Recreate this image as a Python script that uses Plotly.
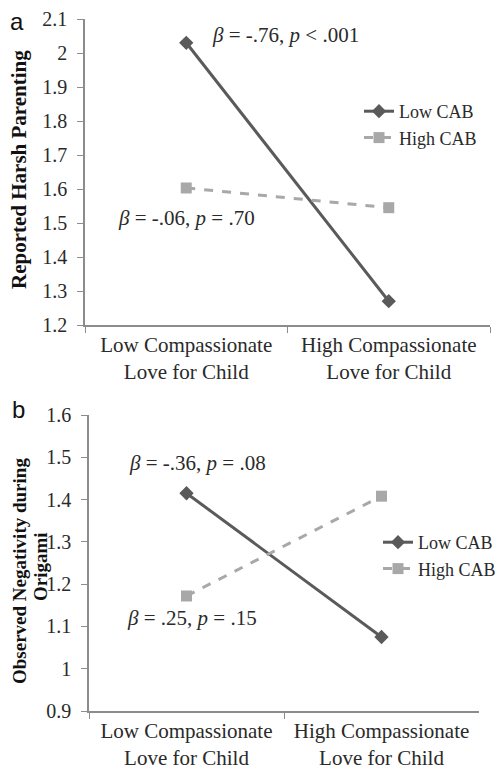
import plotly.graph_objects as go

categories = ["Low Compassionate<br>Love for Child", "High Compassionate<br>Love for Child"]
series_names = ["Low CAB", "High CAB"]
a_low_cab = [2.03, 1.27]
a_high_cab = [1.603, 1.545]
b_low_cab = [1.415, 1.075]
b_high_cab = [1.172, 1.408]
a_ticks = [1.2, 1.3, 1.4, 1.5, 1.6, 1.7, 1.8, 1.9, 2.0, 2.1]
b_ticks = [0.9, 1.0, 1.1, 1.2, 1.3, 1.4, 1.5, 1.6]

DARK = "#5a5a5a"
LIGHT = "#a8a8a8"
AXIS = "#8c8c8c"
TXT = "#2a2a2a"
SERIF = "Liberation Serif, Times New Roman, serif"
SANS = "Liberation Sans, Arial, sans-serif"

fig = go.Figure()

def add_series(vals, name, xa, ya, legend, dark):
    fig.add_trace(go.Scatter(
        x=categories, y=vals, name=name, mode="lines+markers",
        xaxis=xa, yaxis=ya, legend=legend,
        line=dict(color=DARK if dark else LIGHT, width=3, dash="solid" if dark else "dash"),
        marker=dict(symbol="diamond" if dark else "square", size=11,
                    color=DARK if dark else LIGHT),
    ))

add_series(a_low_cab, series_names[0], "x", "y", "legend", True)
add_series(a_high_cab, series_names[1], "x", "y", "legend", False)
add_series(b_low_cab, series_names[0], "x2", "y2", "legend2", True)
add_series(b_high_cab, series_names[1], "x2", "y2", "legend2", False)

xcommon = dict(type="category", range=[-0.5, 1.5], tickson="boundaries", ticks="outside",
               ticklen=6, tickcolor=AXIS, showline=True, linecolor=AXIS, linewidth=1.5,
               showgrid=False, zeroline=False, automargin=False,
               tickfont=dict(family=SERIF, size=21, color=TXT))
ycommon = dict(ticks="outside", ticklen=6, tickcolor=AXIS, showline=True, linecolor=AXIS,
               linewidth=1.5, showgrid=False, zeroline=False, automargin=False,
               tickfont=dict(family=SERIF, size=20, color=TXT))

leg_font = dict(family=SERIF, size=18, color=TXT)
fig.update_layout(
    template="none",
    width=504, height=775, margin=dict(l=0, r=0, t=0, b=0, autoexpand=False),
    plot_bgcolor="white", paper_bgcolor="white",
    xaxis=dict(domain=[85/504, 490/504], anchor="y", **xcommon),
    yaxis=dict(domain=[1-325/775, 1-19/775], anchor="x", range=[1.2, 2.1], tickvals=a_ticks,
               ticklabelstandoff=6, **ycommon),
    xaxis2=dict(domain=[89/504, 479/504], anchor="y2", **xcommon),
    yaxis2=dict(domain=[1-711/775, 1-415/775], anchor="x2", range=[0.9, 1.6], tickvals=b_ticks,
                ticklabelstandoff=6, **ycommon),
    legend=dict(x=359/504, y=1-93/775, xanchor="left", yanchor="top",
                font=leg_font, bgcolor="rgba(0,0,0,0)", tracegroupgap=0, itemwidth=30),
    legend2=dict(x=378/504, y=1-524/775, xanchor="left", yanchor="top",
                 font=leg_font, bgcolor="rgba(0,0,0,0)", tracegroupgap=0, itemwidth=30),
    showlegend=True,
)

ann_font = dict(family=SERIF, size=21, color=TXT)
anns = [
    ("<i>β</i> = -.76, <i>p</i> &lt; .001", 285, 35),
    ("<i>β</i> = -.06, <i>p</i> = .70", 186, 218),
    ("<i>β</i> = -.36, <i>p</i> = .08", 197, 463),
    ("<i>β</i> = .25, <i>p</i> = .15", 192, 618),
]
for text, px, py in anns:
    fig.add_annotation(text=text, x=px/504, y=1-py/775, xref="paper", yref="paper",
                       showarrow=False, font=ann_font, xanchor="center", yanchor="middle")

titles = [
    ("<b>Reported Harsh Parenting</b>", 19, 170, 21),
    ("<b>Observed Negativity during</b>", 19, 571, 19),
    ("<b>Origami</b>", 40, 567, 19),
]
for text, px, py, fs in titles:
    fig.add_annotation(text=text, x=px/504, y=1-py/775, xref="paper", yref="paper",
                       showarrow=False, font=dict(family=SERIF, size=fs, color="#111"),
                       textangle=-90, xanchor="center", yanchor="middle")

fig.add_annotation(text="a", x=17/504, y=1-21/775, xref="paper", yref="paper", showarrow=False,
                   font=dict(family=SANS, size=24, color="#111"), xanchor="center", yanchor="middle")
fig.add_annotation(text="b", x=18/504, y=1-409/775, xref="paper", yref="paper", showarrow=False,
                   font=dict(family=SANS, size=24, color="#111"), xanchor="center", yanchor="middle")

fig.write_html("out.html", config={"displayModeBar": False},
               post_script="document.body.style.margin='0';document.body.style.padding='0';")
